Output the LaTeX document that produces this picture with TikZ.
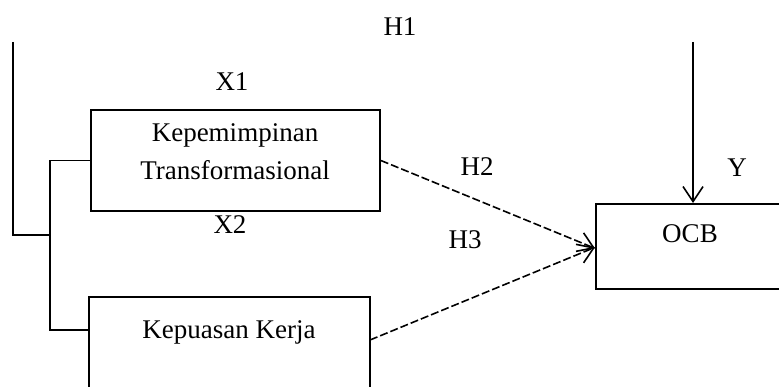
\documentclass[tikz,border=0pt]{standalone}
\usepackage{fontspec}
\setmainfont{Liberation Serif}
\usetikzlibrary{arrows.meta, positioning}

\begin{document}
\begin{tikzpicture}[x=1pt, y=-1pt,
    box/.style={draw, line width=1.7pt, inner sep=0pt},
    lbl/.style={font=\fontsize{27}{32}\selectfont, inner sep=0pt, align=center},
    link/.style={line width=1.6pt},
    tip/.style={-{Straight Barb[length=15pt, width=20pt, line width=1.6pt]}},
    ]
    \useasboundingbox (0,0) rectangle (779,387);
    \clip (0,0) rectangle (779,387);

    % boxes
    \node[box, minimum width=289pt, minimum height=101pt] (kp) at (235.5,160.5) {};
    \node[box, minimum width=281pt, minimum height=110pt, anchor=north] (kk) at (229.5,296) {};
    \node[box, minimum width=220pt, minimum height=85pt, anchor=north west] (ocb) at (595,203) {};

    % texts
    \node[lbl] (kptext) at (235,152) {Kepemimpinan\\[6pt]Transformasional};
    \node[lbl] (kktext) at (229,332) {Kepuasan Kerja};
    \node[lbl] (ocbtext) at (690,234) {OCB};
    \node[lbl] (x1) at (232,82) {X1};
    \node[lbl] (x2) at (230,225) {X2};
    \node[lbl] (h1) at (400,27) {H1};
    \node[lbl] (h2) at (477,167) {H2};
    \node[lbl] (h3) at (465,240) {H3};
    \node[lbl] (y) at (737,168) {Y};

    % bracket on the left
    \coordinate (start) at (13,42);
    \coordinate (jmid) at (50,235);
    \coordinate (jtop) at (50,160.5);
    \coordinate (jbot) at (50,330);
    \draw[link] (start) |- (jmid);
    \draw[link] (kp.west) -- (jtop) -- (jbot) -- (kk.west |- jbot);

    % arrows into OCB
    \coordinate (ytop) at (693,42);
    \draw[link, tip] (ytop) -- (ocb.north -| ytop);
    \coordinate (kkout) at (370,340);
    \draw[link, tip, dash pattern=on 8pt off 3pt] (kp.east) -- ([yshift=-2pt]ocb.west);
    \draw[link, tip, dash pattern=on 8pt off 3pt] (kkout) -- ([yshift=-1pt]ocb.west);
\end{tikzpicture}
\end{document}
